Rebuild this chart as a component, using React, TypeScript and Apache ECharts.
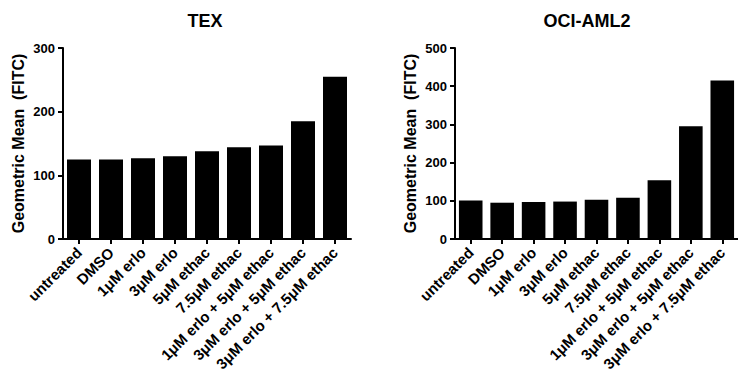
import React, { useEffect, useRef } from "react";
import * as echarts from "echarts";

const categories = [
  "untreated",
  "DMSO",
  "1μM erlo",
  "3μM erlo",
  "5μM ethac",
  "7.5μM ethac",
  "1μM erlo + 5μM ethac",
  "3μM erlo + 5μM ethac",
  "3μM erlo + 7.5μM ethac",
];
const texValues = [125, 125, 127, 130, 138, 144, 147, 185, 255];
const ociValues = [101, 95, 97, 98, 103, 108, 154, 295, 415];
const titles = ["TEX", "OCI-AML2"];
const yMax = [300, 500];
const yInterval = 100;
const yName = "Geometric Mean  (FITC)";

const FONT = "'Liberation Sans', Arial, sans-serif";

export default function App() {
  const ref = useRef<HTMLDivElement>(null);
  useEffect(() => {
    if (!ref.current) return;
    const chart = echarts.init(ref.current, undefined, { renderer: "svg" });
    const lefts = [63, 455];
    const centers = [200, 582];
    const axisLine = { show: true, lineStyle: { color: "#000", width: 2 } };
    const option: any = {
      animation: false,
      backgroundColor: "#fff",
      title: titles.map((t, i) => ({
        text: t,
        left: centers[i],
        top: 7,
        textAlign: "center",
        textStyle: { fontFamily: FONT, fontWeight: "bold", fontSize: 18, color: "#000" },
      })),
      grid: lefts.map((l) => ({ left: l, top: 48, width: 288, height: 191 })),
      xAxis: [0, 1].map((i) => ({
        type: "category",
        gridIndex: i,
        data: categories,
        axisLine,
        axisTick: { show: true, alignWithLabel: true, length: 5, lineStyle: { color: "#000", width: 2 } },
        axisLabel: {
          interval: 0,
          rotate: 45,
          margin: 11,
          fontFamily: FONT,
          fontWeight: "bold",
          fontSize: 15,
          color: "#000",
        },
      })),
      yAxis: [0, 1].map((i) => ({
        type: "value",
        gridIndex: i,
        min: 0,
        max: yMax[i],
        interval: yInterval,
        name: yName,
        nameLocation: "middle",
        nameGap: 37,
        nameRotate: 90,
        nameTextStyle: { fontFamily: FONT, fontWeight: "bold", fontSize: 16, color: "#000" },
        splitLine: { show: false },
        axisLine,
        axisTick: { show: true, length: 5, lineStyle: { color: "#000", width: 2 } },
        axisLabel: { margin: 8, fontFamily: FONT, fontWeight: "bold", fontSize: 13, color: "#000" },
      })),
      series: [texValues, ociValues].map((d, i) => ({
        type: "bar",
        xAxisIndex: i,
        yAxisIndex: i,
        data: d,
        barCategoryGap: "25%",
        itemStyle: { color: "#000" },
      })),
    };
    chart.setOption(option);
    return () => chart.dispose();
  }, []);
  return (
    <div
      ref={ref}
      style={{ position: "fixed", left: 0, top: 0, width: 738, height: 377, background: "#fff" }}
    />
  );
}
